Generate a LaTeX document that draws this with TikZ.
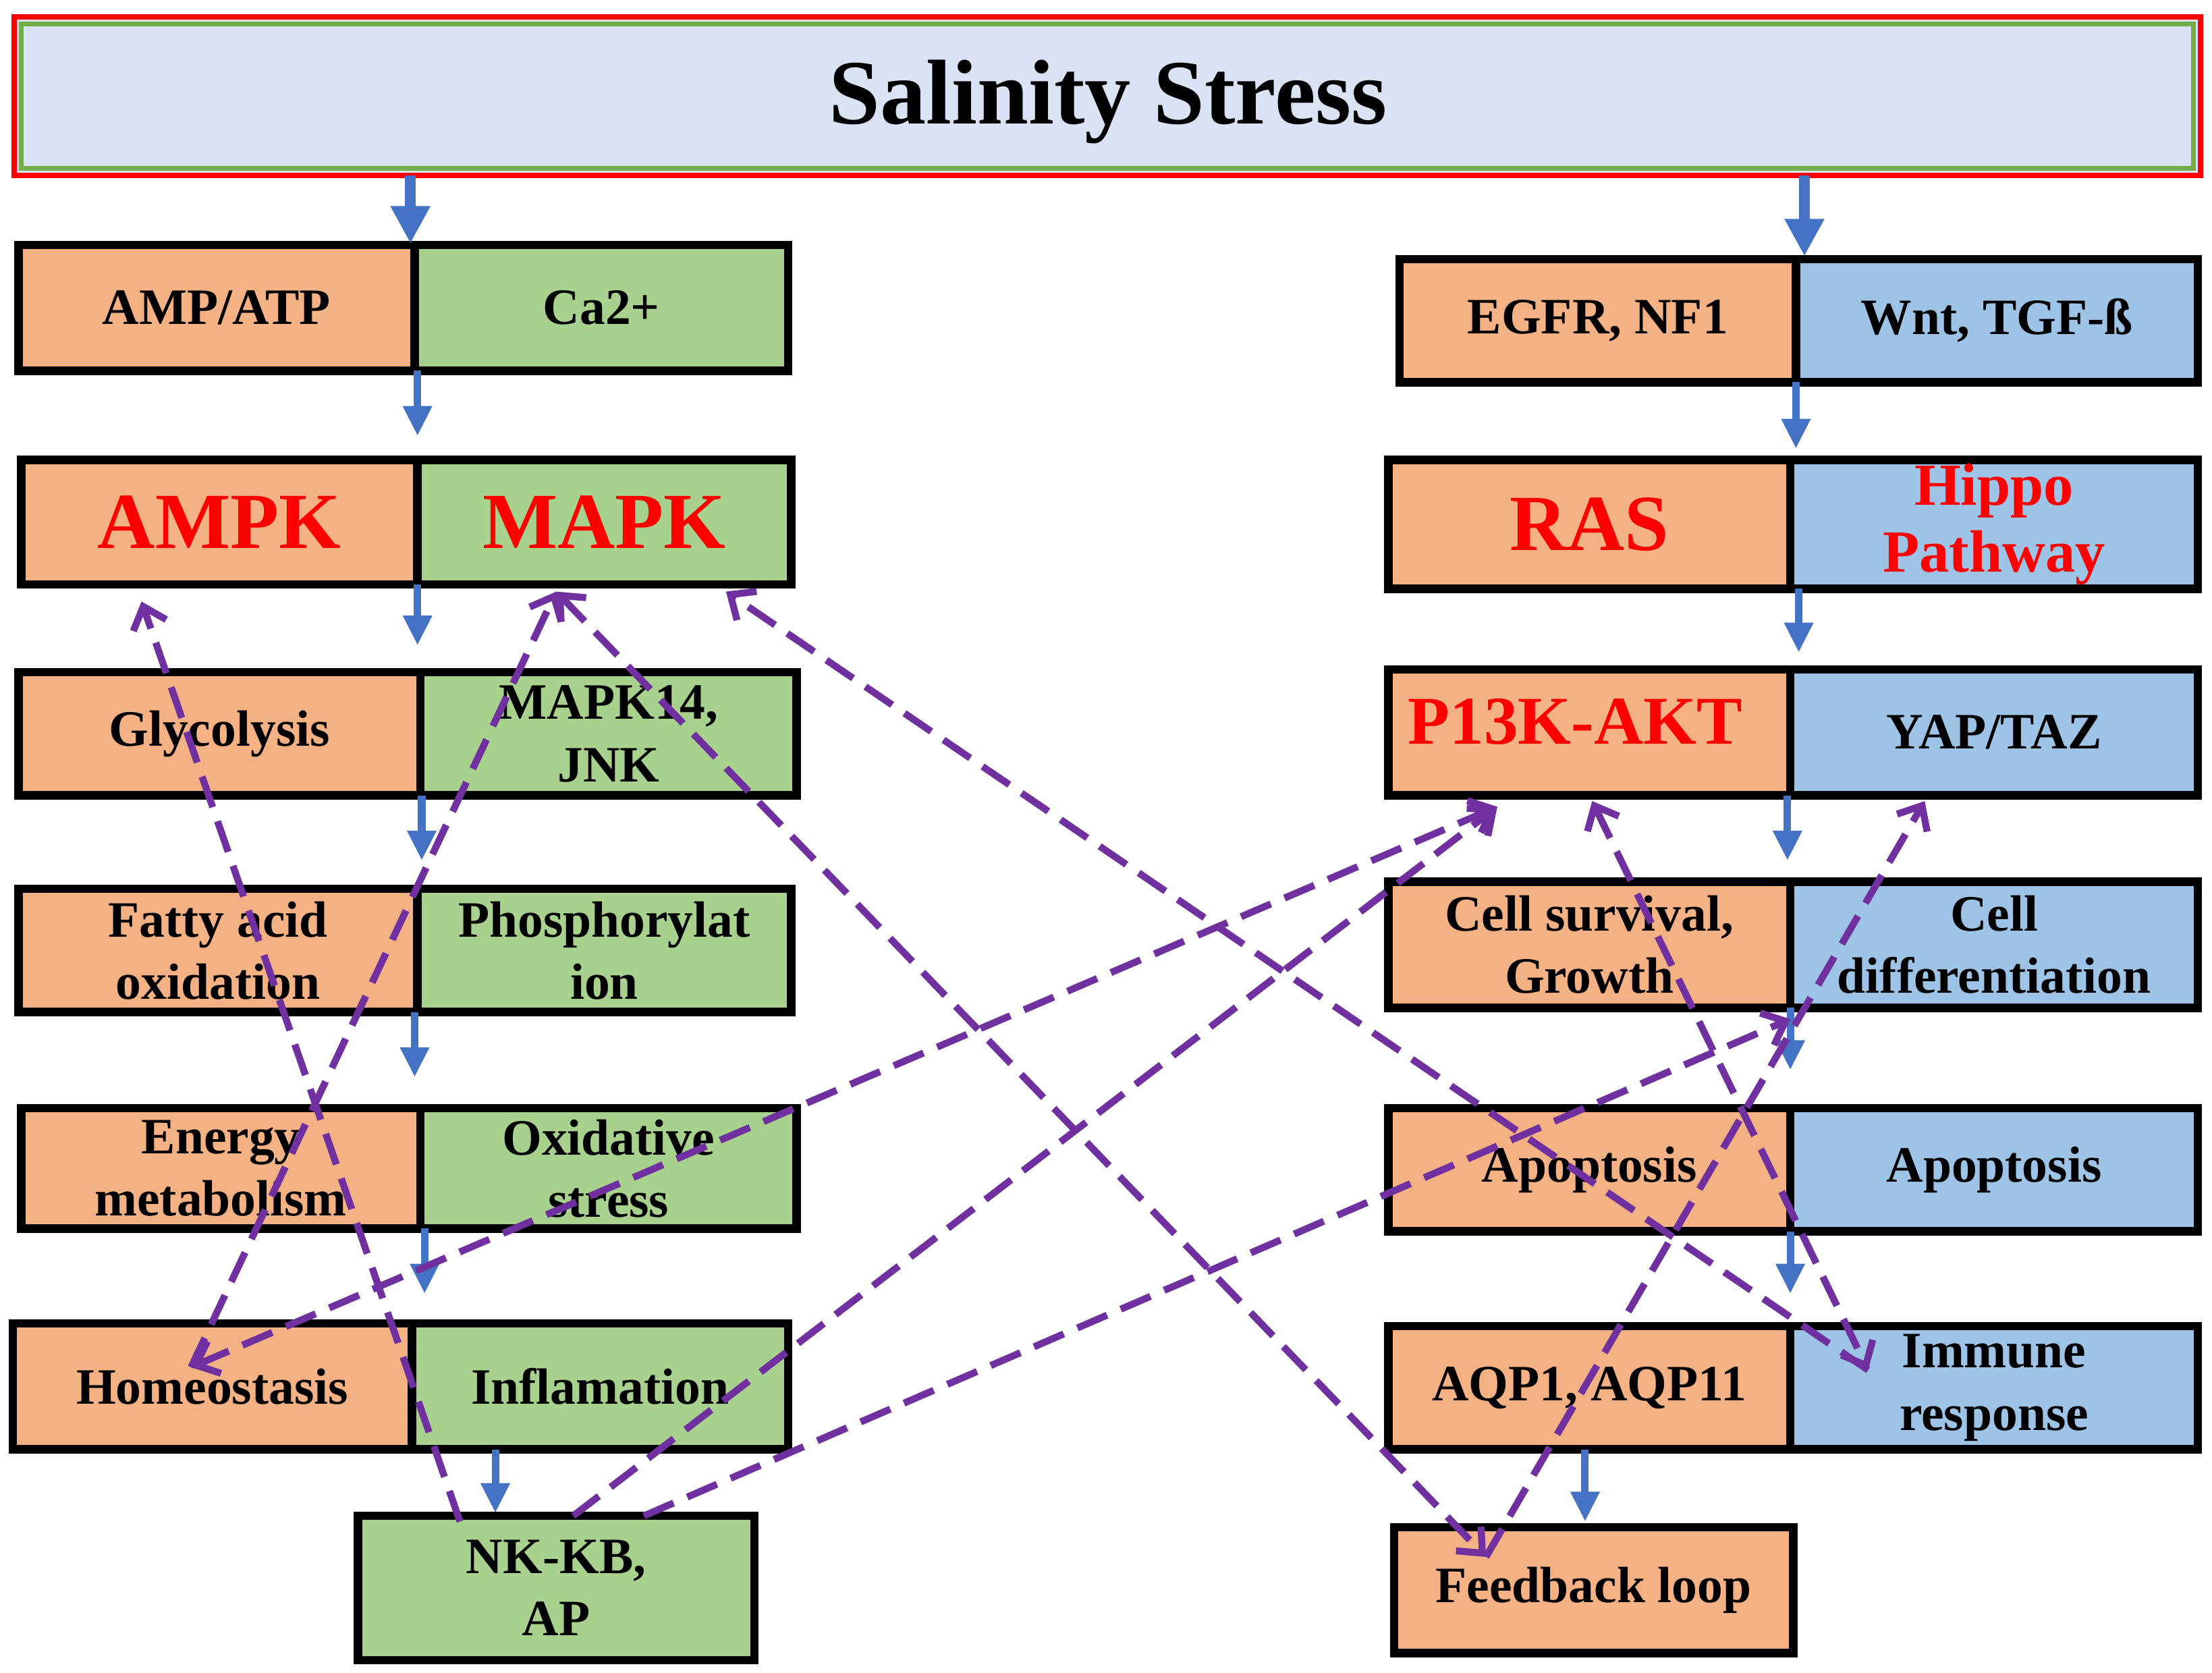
\documentclass[tikz,border=0pt]{standalone}
\usepackage{fontspec}
\setmainfont{Liberation Serif}
\usetikzlibrary{fit,arrows.meta}
\definecolor{cor}{HTML}{F4B183}
\definecolor{cgr}{HTML}{A9D18E}
\definecolor{cbl}{HTML}{9DC3E6}
\definecolor{ctit}{HTML}{DAE3F3}
\definecolor{carr}{HTML}{4472C4}
\definecolor{cpur}{HTML}{7030A0}
\definecolor{cgreen}{HTML}{70AD47}
\newcommand{\bx}[5]{%
 \node[box,fill=#2,fit={(#3)(#4)}] (#1) {};
 \node[txt] (#1t) at (#1.center) {#5};}
\begin{document}
\begin{tikzpicture}[x=0.02cm,y=-0.02cm,
 box/.style={draw=black,line width=3.4pt,inner sep=0pt,outer sep=0pt},
 txt/.style={align=center,inner sep=0pt,font=\fontsize{20.5}{25}\selectfont\bfseries},
 big/.style={font=\fontsize{32}{34}\selectfont\bfseries,text=red},
 mid/.style={font=\fontsize{24}{27}\selectfont\bfseries,text=red},
 bar/.style={draw=carr,line width=3pt,-{Triangle[width=11pt,length=12pt]}},
 barL/.style={draw=carr,line width=4.5pt,-{Triangle[width=15pt,length=15pt]}},
 pu/.style={draw=cpur,line width=2.8pt,dash pattern=on 13pt off 6pt,-{Straight Barb[length=8pt,width=14pt,line width=2.8pt]}},
 pub/.style={pu,{Straight Barb[length=8pt,width=14pt,line width=2.8pt]}-{Straight Barb[length=8pt,width=14pt,line width=2.8pt]}}]
\useasboundingbox (0,0) rectangle (1563,1182);
% title
\node[fit={(10,12)(1555,124)},inner sep=0pt,outer sep=0pt,draw=red,line width=2.3pt,fill=ctit] (title) {};
\draw[cgreen,line width=2pt] (15,17) rectangle (1550,119);
\node[font=\fontsize{37}{40}\selectfont\bfseries,inner sep=0pt] (tt) at (783,72) {Salinity Stress};
% left column
\bx{amp}{cor}{13,173}{293,262}{AMP/ATP}
\bx{ca}{cgr}{293,173}{557,262}{Ca2+}
\node[box,fill=cor,fit={(15,325)(295,413)}] (ampk) {};
\node[txt,big] at (ampk.center) {AMPK};
\node[box,fill=cgr,fit={(295,325)(559,413)}] (mapk) {};
\node[txt,big] at (mapk.center) {MAPK};
\bx{gly}{cor}{13,475}{297,562}{Glycolysis}
\bx{mapk14}{cgr}{297,475}{563,562}{MAPK14,\\JNK}
\bx{fat}{cor}{13,628}{295,715}{Fatty acid\\oxidation}
\bx{pho}{cgr}{295,628}{559,715}{Phosphorylat\\ion}
\bx{ene}{cor}{15,783}{297,868}{Energy\\metabolism}
\bx{oxi}{cgr}{297,783}{563,868}{Oxidative\\stress}
\bx{hom}{cor}{9,935}{291,1024}{Homeostasis}
\bx{inf}{cgr}{291,935}{557,1024}{Inflamation}
\bx{nk}{cgr}{253,1071}{533,1173}{NK-KB,\\AP}
% right column
\bx{egfr}{cor}{989,183}{1269,270}{EGFR, NF1}
\bx{wnt}{cbl}{1269,183}{1553,270}{Wnt, TGF-ß}
\node[box,fill=cor,fit={(981,325)(1265,416)}] (ras) {};
\node[txt,big] at (ras.center) {RAS};
\node[box,fill=cbl,fit={(1265,325)(1553,416)}] (hip) {};
\node[txt,mid] at (hip.center) {Hippo\\Pathway};
\node[box,fill=cor,fit={(981,473)(1265,562)}] (pi) {};
\node[txt,big,font=\fontsize{27.5}{30}\selectfont\bfseries] at ([yshift=0.15cm,xshift=-0.2cm]pi.center) {P13K-AKT};
\bx{yap}{cbl}{1265,473}{1553,562}{YAP/TAZ}
\bx{surv}{cor}{981,623}{1265,712}{Cell survival,\\Growth}
\bx{diff}{cbl}{1265,623}{1553,712}{Cell\\differentiation}
\bx{apo1}{cor}{981,783}{1265,870}{Apoptosis}
\bx{apo2}{cbl}{1265,783}{1553,870}{Apoptosis}
\bx{aqp}{cor}{981,937}{1265,1024}{AQP1, AQP11}
\bx{imm}{cbl}{1265,937}{1553,1024}{Immune\\response}
\bx{fb}{cor}{985,1079}{1267,1168}{Feedback loop}
% blue arrows
\draw[barL] (290,124) -- (290,172);
\draw[barL] (1275,124) -- (1275,181);
\draw[bar] (295,262) -- (295,308);
\draw[bar] (295,413) -- (295,456);
\draw[bar] (298,562) -- (298,608);
\draw[bar] (293,715) -- (293,761);
\draw[bar] (300,868) -- (300,914);
\draw[bar] (350,1024) -- (350,1069);
\draw[bar] (1269,270) -- (1269,317);
\draw[bar] (1271,416) -- (1271,461);
\draw[bar] (1263,562) -- (1263,608);
\draw[bar] (1265,712) -- (1265,756);
\draw[bar] (1265,870) -- (1265,914);
\draw[bar] (1120,1024) -- (1120,1075);
% purple connector endpoints
\coordinate (ampkB) at (100,425);
\coordinate (mapkB1) at (393,418);
\coordinate (mapkB2) at (513,418);
\coordinate (homT) at (135,966);
\coordinate (nk1) at (325,1075);
\coordinate (nk2) at (405,1071);
\coordinate (nk3) at (455,1071);
\coordinate (piB1) at (1058,570);
\coordinate (piB2) at (1125,566);
\coordinate (yapB) at (1360,566);
\coordinate (diffB) at (1265,720);
\coordinate (fbT) at (1050,1100);
\coordinate (immL) at (1320,968);
% purple dashed
\draw[pu] (nk1) -- (ampkB);
\draw[pu] (homT) -- (mapkB1);
\draw[pub] (homT) -- (piB1);
\draw[pu] (nk2) -- (piB1);
\draw[pu] (nk3) -- (diffB);
\draw[pub] (mapkB1) -- (fbT);
\draw[pu] (fbT) -- (yapB);
\draw[pu] (immL) -- (mapkB2);
\draw[pub] (piB2) -- (immL);
\end{tikzpicture}
\end{document}
